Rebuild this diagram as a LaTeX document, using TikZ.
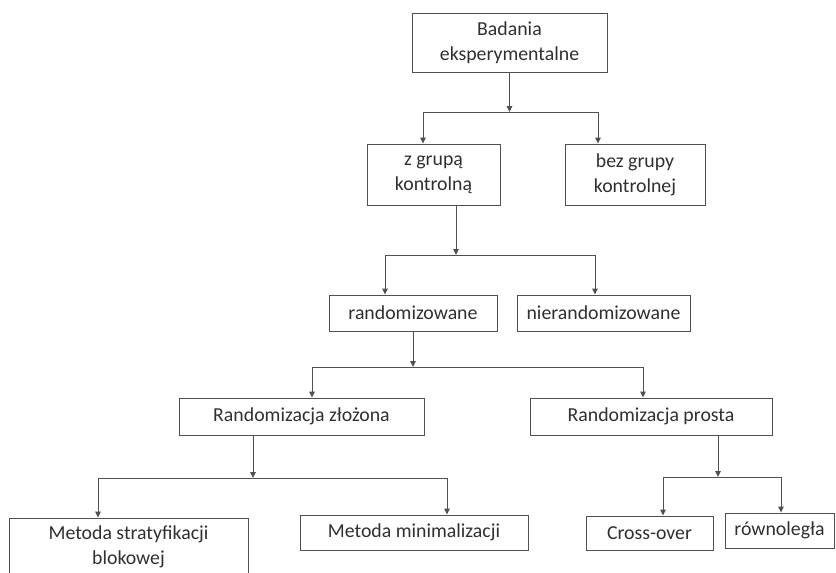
\documentclass[tikz,border=0pt]{standalone}
\usepackage{fontspec}
\setmainfont{Carlito}
\usetikzlibrary{arrows.meta}
\definecolor{linegray}{HTML}{505050}
\definecolor{textgray}{HTML}{303030}
\tikzset{
  box/.style={draw=linegray, line width=0.9pt, align=center, inner sep=0pt,
    text=textgray, font=\fontsize{19.8}{25}\selectfont},
  link/.style={draw=linegray, line width=0.9pt},
  arr/.style={link, -{Triangle[length=6pt,width=5.5pt]}}
}
\begin{document}
\begin{tikzpicture}[x=1pt,y=-1pt]
  \useasboundingbox (0,0) rectangle (836,573);
  \clip (0,0) rectangle (836,573);
  \fill[white] (0,0) rectangle (836,573);

  % boxes
  \node[box, minimum width=195, minimum height=59] (top) at (509.5,42.5) {Badania\\eksperymentalne};
  \node[box, minimum width=133, minimum height=61] (zg) at (433.5,174.5) {z grupą\\kontrolną};
  \node[box, minimum width=140, minimum height=61] (bez) at (635,174.5) {bez grupy\\kontrolnej};
  \node[box, minimum width=168, minimum height=36] (rand) at (413,313) {randomizowane};
  \node[box, minimum width=173, minimum height=36] (nrand) at (603.5,313) {nierandomizowane};
  \node[box, minimum width=245, minimum height=37] (zloz) at (301.5,416.5) {Randomizacja złożona};
  \node[box, minimum width=242, minimum height=37] (prosta) at (651,416.5) {Randomizacja prosta};
  \node[box, minimum width=239, minimum height=58] (strat) at (128.5,547) {Metoda stratyfikacji\\blokowej};
  \node[box, minimum width=228, minimum height=35] (minim) at (414,532.5) {Metoda minimalizacji};
  \node[box, minimum width=127, minimum height=34] (cross) at (649.5,533) {Cross-over};
  \node[box, minimum width=109, minimum height=35] (rown) at (779.5,530.5) {równoległa};

  % split points and branch ends
  \coordinate (j1) at (509.5,112);  \coordinate (l1) at (423,112);  \coordinate (r1) at (598,112);
  \coordinate (j2) at (456,255);    \coordinate (l2) at (385,255);  \coordinate (r2) at (595,255);
  \coordinate (j3) at (413,367);    \coordinate (l3) at (312,367);  \coordinate (r3) at (643,367);
  \coordinate (j4) at (253,478);    \coordinate (l4) at (98,478);   \coordinate (r4) at (447,478);
  \coordinate (j5) at (718,477);    \coordinate (l5) at (663,477);  \coordinate (r5) at (781,477);

  % level 1
  \draw[arr] (top.south) -- (j1);
  \draw[link] (l1) -- (r1);
  \draw[arr] (l1) -- (l1 |- zg.north);
  \draw[arr] (r1) -- (r1 |- bez.north);
  % level 2
  \draw[arr] (j2 |- zg.south) -- (j2);
  \draw[link] (l2) -- (r2);
  \draw[arr] (l2) -- (l2 |- rand.north);
  \draw[arr] (r2) -- (r2 |- nrand.north);
  % level 3
  \draw[arr] (rand.south) -- (j3);
  \draw[link] (l3) -- (r3);
  \draw[arr] (l3) -- (l3 |- zloz.north);
  \draw[arr] (r3) -- (r3 |- prosta.north);
  % level 4
  \draw[arr] (j4 |- zloz.south) -- (j4);
  \draw[link] (l4) -- (r4);
  \draw[arr] (l4) -- (l4 |- strat.north);
  \draw[arr] (r4) -- (r4 |- minim.north);
  % level 5
  \draw[arr] (j5 |- prosta.south) -- (j5);
  \draw[link] (l5) -- (r5);
  \draw[arr] (l5) -- (l5 |- cross.north);
  \draw[arr] (r5) -- (r5 |- rown.north);
\end{tikzpicture}
\end{document}
